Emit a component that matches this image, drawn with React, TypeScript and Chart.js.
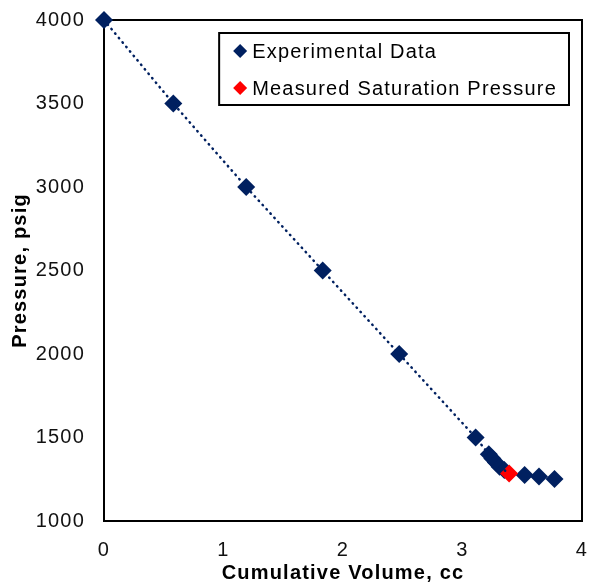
import React, { useEffect, useRef } from 'react';
import { Chart, registerables } from 'chart.js';

Chart.register(...registerables);

// ---- Data ----
const volumeExperimental = [0, 0.58, 1.19, 1.83, 2.47, 3.11, 3.22, 3.25, 3.28, 3.31, 3.35, 3.52, 3.64, 3.77];
const pressureExperimental = [4000, 3500, 3000, 2500, 2000, 1500, 1400, 1375, 1350, 1325, 1305, 1275, 1266, 1252];
const volumeSaturation = [3.39];
const pressureSaturation = [1285];
// dotted line runs through the experimental points down to the saturation point
const trendVolume = [0, 0.58, 1.19, 1.83, 2.47, 3.11, 3.22, 3.25, 3.28, 3.31, 3.35, 3.39];
const trendPressure = [4000, 3500, 3000, 2500, 2000, 1500, 1400, 1375, 1350, 1325, 1305, 1285];
const xTicks = [0, 1, 2, 3, 4];
const yTicks = [1000, 1500, 2000, 2500, 3000, 3500, 4000];
const legendLabels = ['Experimental Data', 'Measured Saturation Pressure'];

const NAVY = '#002060';
const RED = '#FF0000';
const FONT = "'Liberation Sans', Arial, sans-serif";
const SPACING = '1.2px';
const FS = 20;

const spacingPlugin = {
  id: 'spacing',
  beforeUpdate(chart: any) { chart.ctx.letterSpacing = SPACING; },
  beforeLayout(chart: any) { chart.ctx.letterSpacing = SPACING; },
  beforeDraw(chart: any) { chart.ctx.letterSpacing = SPACING; },
};

const framePlugin = {
  id: 'frame',
  beforeDatasetsDraw(chart: any) {
    const { ctx, chartArea: a } = chart;
    ctx.save();
    ctx.strokeStyle = '#000';
    ctx.lineWidth = 2;
    ctx.strokeRect(a.left, a.top, a.right - a.left, a.bottom - a.top);
    ctx.restore();
  },
};

function diamond(ctx: CanvasRenderingContext2D, x: number, y: number, r: number, color: string) {
  ctx.beginPath();
  ctx.moveTo(x, y - r);
  ctx.lineTo(x + r, y);
  ctx.lineTo(x, y + r);
  ctx.lineTo(x - r, y);
  ctx.closePath();
  ctx.fillStyle = color;
  ctx.fill();
}

const legendPlugin = {
  id: 'boxLegend',
  afterDraw(chart: any) {
    const { ctx, chartArea: a } = chart;
    ctx.save();
    ctx.letterSpacing = SPACING;
    ctx.font = `${FS}px ${FONT}`;
    const widths = legendLabels.map((t) => ctx.measureText(t).width);
    const w = 33 + Math.max(...widths) + 12;
    const h = 72;
    const right = a.right - 13;
    const left = right - w;
    const top = a.top + 13;
    ctx.fillStyle = '#fff';
    ctx.fillRect(left, top, w, h);
    ctx.strokeStyle = '#000';
    ctx.lineWidth = 2;
    ctx.strokeRect(left, top, w, h);
    const colors = [NAVY, RED];
    const rows = [top + 18, top + 55];
    legendLabels.forEach((t, i) => {
      diamond(ctx, left + 21, rows[i], 7, colors[i]);
      ctx.fillStyle = '#000';
      ctx.textBaseline = 'middle';
      ctx.textAlign = 'left';
      ctx.fillText(t, left + 33, rows[i] + 1);
    });
    ctx.restore();
  },
};

export default function App() {
  const ref = useRef<HTMLCanvasElement | null>(null);

  useEffect(() => {
    if (!ref.current) return;
    const chart = new Chart(ref.current, {
      type: 'scatter',
      data: {
        datasets: [
          {
            label: 'trend',
            data: trendVolume.map((x, i) => ({ x, y: trendPressure[i] })),
            showLine: true,
            borderColor: NAVY,
            borderWidth: 2.5,
            borderDash: [0.5, 5.3],
            borderCapStyle: 'round',
            pointRadius: 0,
            fill: false,
            order: 0,
            clip: false,
          } as any,
          {
            label: legendLabels[1],
            data: volumeSaturation.map((x, i) => ({ x, y: pressureSaturation[i] })),
            pointStyle: 'rectRot',
            pointRadius: 9,
            pointBackgroundColor: RED,
            pointBorderColor: RED,
            pointBorderWidth: 0,
            order: 1,
            clip: false,
          } as any,
          {
            label: legendLabels[0],
            data: volumeExperimental.map((x, i) => ({ x, y: pressureExperimental[i] })),
            pointStyle: 'rectRot',
            pointRadius: 9,
            pointBackgroundColor: NAVY,
            pointBorderColor: NAVY,
            pointBorderWidth: 0,
            order: 2,
            clip: false,
          } as any,
        ],
      },
      options: {
        animation: false,
        responsive: false,
        maintainAspectRatio: false,
        layout: { padding: { top: 20, right: 7, left: 0, bottom: 0 } },
        plugins: {
          legend: { display: false },
          tooltip: { enabled: false },
        },
        scales: {
          x: {
            type: 'linear',
            min: 0,
            max: 4,
            afterBuildTicks: (s: any) => { s.ticks = xTicks.map((v) => ({ value: v })); },
            afterFit: (s: any) => {
              s.height = 64;
              s.paddingLeft = 0;
              s.paddingRight = 0;
            },
            grid: { display: false, drawTicks: false },
            border: { display: false },
            ticks: {
              padding: 17,
              color: '#111',
              font: { family: FONT, size: FS },
              callback: (v: any) => String(v),
            },
            title: {
              display: true,
              text: 'Cumulative Volume, cc',
              color: '#000',
              font: { family: FONT, size: FS, weight: 'bold' },
              padding: { top: 0, bottom: 0 },
            },
          },
          y: {
            type: 'linear',
            min: 1000,
            max: 4000,
            afterBuildTicks: (s: any) => { s.ticks = yTicks.map((v) => ({ value: v })); },
            afterFit: (s: any) => {
              s.width = 104;
              s.paddingTop = 0;
              s.paddingBottom = 0;
            },
            grid: { display: false, drawTicks: false },
            border: { display: false },
            ticks: {
              padding: 19,
              color: '#111',
              font: { family: FONT, size: FS },
              callback: (v: any) => String(v),
            },
            title: {
              display: true,
              text: 'Pressure, psig',
              color: '#000',
              font: { family: FONT, size: FS, weight: 'bold' },
              padding: { top: 8, bottom: 0 },
            },
          },
        },
      } as any,
      plugins: [spacingPlugin, framePlugin, legendPlugin],
    });
    return () => chart.destroy();
  }, []);

  return (
    <div style={{ position: 'fixed', left: 0, top: 0, width: 591, height: 585, background: '#fff' }}>
      <canvas ref={ref} width={591} height={585} style={{ width: 591, height: 585 }} />
    </div>
  );
}
